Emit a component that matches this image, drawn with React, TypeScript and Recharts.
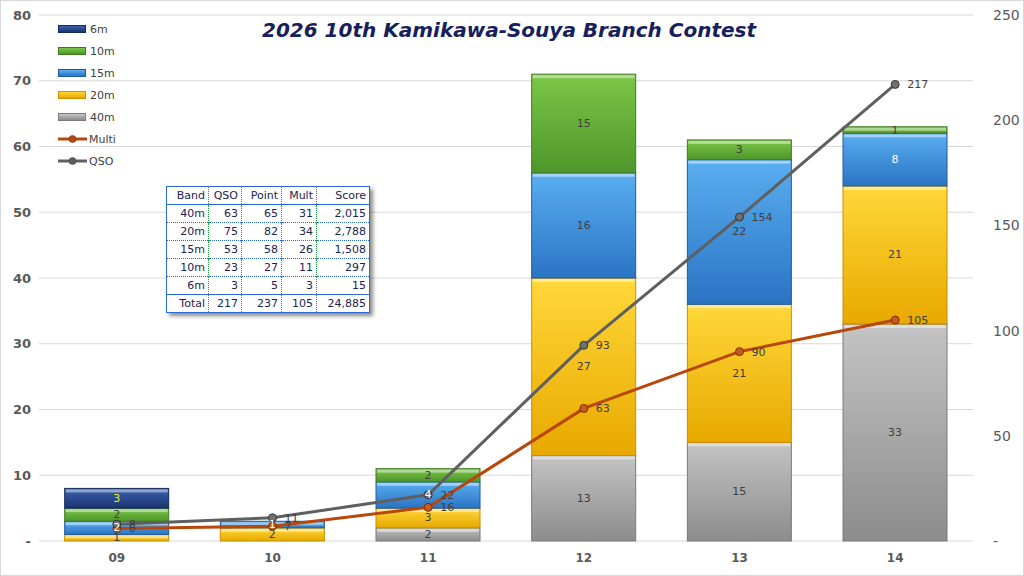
import React from "react";
import { ComposedChart, Bar, Line, XAxis, YAxis, CartesianGrid, LabelList } from "recharts";

const categories = ["09", "10", "11", "12", "13", "14"];
const band40 = [0, 0, 2, 13, 15, 33];
const band20 = [1, 2, 3, 27, 21, 21];
const band15 = [2, 1, 4, 16, 22, 8];
const band10 = [2, 0, 2, 15, 3, 1];
const band6 = [3, 0, 0, 0, 0, 0];
const multi = [6, 7, 16, 63, 90, 105];
const qso = [8, 11, 22, 93, 154, 217];

const leftTicks = [0, 10, 20, 30, 40, 50, 60, 70, 80];
const rightTicks = [0, 50, 100, 150, 200, 250];

const tableHead = ["Band", "QSO", "Point", "Mult", "Score"];
const tableRows = [
  ["40m", "63", "65", "31", "2,015"],
  ["20m", "75", "82", "34", "2,788"],
  ["15m", "53", "58", "26", "1,508"],
  ["10m", "23", "27", "11", "297"],
  ["6m", "3", "5", "3", "15"],
];
const tableTotal = ["Total", "217", "237", "105", "24,885"];

const data = categories.map((c, i) => ({
  name: c,
  b40: band40[i],
  b20: band20[i],
  b15: band15[i],
  b10: band10[i],
  b6: band6[i],
  multi: multi[i],
  qso: qso[i],
}));

const FONT = "'DejaVu Sans', Verdana, sans-serif";

// light top -> darker bottom, like the Excel bevel fill
const bands = [
  { key: "b40", name: "40m", top: "#c4c4c4", bottom: "#8c8c8c", edge: "#7a7a7a" },
  { key: "b20", name: "20m", top: "#ffd83a", bottom: "#e8a800", edge: "#c89000" },
  { key: "b15", name: "15m", top: "#5aaef0", bottom: "#2a74c4", edge: "#1e5ca0" },
  { key: "b10", name: "10m", top: "#7cc648", bottom: "#4e962a", edge: "#3f7a20" },
  { key: "b6", name: "6m", top: "#3a62b0", bottom: "#1a3470", edge: "#142a5c" },
];

const MULTI_COLOR = "#b8470b";
const QSO_COLOR = "#5f5f5f";

function bevelShape(id: string, edge: string) {
  return (props: any) => {
    const { x, y, width, height } = props;
    if (!height || height <= 0) return <g />;
    return (
      <g>
        <rect x={x} y={y} width={width} height={height} fill={`url(#${id})`} stroke={edge} strokeWidth={1} />
        <rect x={x + 1} y={y + 1} width={Math.max(width - 2, 0)} height={Math.min(3, Math.max(height - 2, 0))} fill="#ffffff" opacity={0.45} />
      </g>
    );
  };
}

function barLabel(color: (v: number) => string) {
  return (props: any) => {
    const { x, y, width, height, value } = props;
    if (!value) return null;
    return (
      <text
        x={x + width / 2}
        y={y + height / 2}
        textAnchor="middle"
        dominantBaseline="central"
        fontSize={11}
        fontFamily={FONT}
        fill={color(value)}
      >
        {value}
      </text>
    );
  };
}

const labelColor: Record<string, (v: number) => string> = {
  b40: () => "#404040",
  b20: () => "#404040",
  b15: (v) => (v < 10 ? "#ffffff" : "#404040"),
  b10: () => "#404040",
  b6: () => "#f0f000",
};

const legendItems = [
  ...[...bands].reverse().map((b) => ({ name: b.name, kind: "bar", top: b.top, bottom: b.bottom, edge: b.edge })),
  { name: "Multi", kind: "line", top: MULTI_COLOR, bottom: MULTI_COLOR, edge: MULTI_COLOR },
  { name: "QSO", kind: "line", top: QSO_COLOR, bottom: QSO_COLOR, edge: QSO_COLOR },
];

function Legend() {
  return (
    <div style={{ position: "absolute", left: 57, top: 17, fontFamily: FONT, fontSize: 11, color: "#404040" }}>
      {legendItems.map((it) => (
        <div key={it.name} style={{ height: 22, display: "flex", alignItems: "center" }}>
          {it.kind === "bar" ? (
            <span
              style={{
                display: "inline-block",
                width: 26,
                height: 6,
                background: `linear-gradient(${it.top}, ${it.bottom})`,
                border: `1px solid ${it.edge}`,
                marginRight: 4,
              }}
            />
          ) : (
            <svg width={29} height={10} style={{ marginRight: 2 }}>
              <line x1={0} y1={5} x2={29} y2={5} stroke={it.top} strokeWidth={3} />
              <circle cx={14.5} cy={5} r={3.5} fill={it.top} stroke="#333" strokeWidth={0.5} />
            </svg>
          )}
          <span>{it.name}</span>
        </div>
      ))}
    </div>
  );
}

function ScoreTable() {
  const widths = [42, 33, 40, 35, 53];
  const cell = (txt: string, j: number) => (
    <td
      key={j}
      style={{
        boxSizing: "border-box",
        textAlign: "right",
        padding: "0 3px 0 0",
        height: 18,
        whiteSpace: "nowrap",
        borderRight: j < 4 ? "1px dotted #1ea040" : undefined,
      }}
    >
      {txt}
    </td>
  );
  return (
    <table
      style={{
        position: "absolute",
        left: 165,
        top: 185,
        width: 204,
        tableLayout: "fixed",
        borderCollapse: "collapse",
        border: "1px solid #2a6ad8",
        background: "#ffffff",
        fontFamily: FONT,
        fontSize: 11,
        color: "#1c2450",
        boxShadow: "3px 3px 4px rgba(0,0,0,0.45)",
        lineHeight: "15px",
      }}
    >
      <colgroup>
        {widths.map((w, j) => (
          <col key={j} style={{ width: w }} />
        ))}
      </colgroup>
      <tbody>
        <tr style={{ borderBottom: "1px solid #2a6ad8" }}>{tableHead.map((t, j) => cell(t, j))}</tr>
        {tableRows.map((r, i) => (
          <tr key={i} style={{ borderBottom: i < tableRows.length - 1 ? "1px dotted #2a6ad8" : "1px solid #2a6ad8" }}>
            {r.map((t, j) => cell(t, j))}
          </tr>
        ))}
        <tr>{tableTotal.map((t, j) => cell(t, j))}</tr>
      </tbody>
    </table>
  );
}

export default function App() {
  return (
    <div
      style={{
        position: "absolute",
        left: 0,
        top: 0,
        width: 1024,
        height: 576,
        background: "#ffffff",
        border: "1px solid #d9d9d9",
        boxSizing: "border-box",
        overflow: "hidden",
      }}
    >
      <ComposedChart
        width={1022}
        height={574}
        data={data}
        margin={{ top: 14, right: 0, left: 2, bottom: 4 }}
        barCategoryGap="16.5%"
      >
        <defs>
          {bands.map((b) => (
            <linearGradient key={b.key} id={`g-${b.key}`} x1="0" y1="0" x2="0" y2="1">
              <stop offset="0%" stopColor={b.top} />
              <stop offset="100%" stopColor={b.bottom} />
            </linearGradient>
          ))}
        </defs>
        <CartesianGrid yAxisId="left" vertical={false} stroke="#d9d9d9" />
        <XAxis
          dataKey="name"
          axisLine={false}
          tickLine={false}
          height={30}
          tick={{ fontSize: 12, fontWeight: "bold", fill: "#595959", fontFamily: FONT }}
          tickMargin={6}
        />
        <YAxis
          yAxisId="left"
          domain={[0, 80]}
          ticks={leftTicks}
          width={36}
          axisLine={false}
          tickLine={false}
          tickFormatter={(v) => (v === 0 ? "-" : String(v))}
          tick={{ fontSize: 13, fontWeight: "bold", fill: "#595959", fontFamily: FONT }}
          interval={0}
        />
        <YAxis
          yAxisId="right"
          orientation="right"
          domain={[0, 250]}
          ticks={rightTicks}
          width={50}
          axisLine={false}
          tickLine={false}
          tickFormatter={(v) => (v === 0 ? "-" : String(v))}
          tick={{ fontSize: 14, fill: "#595959", fontFamily: FONT }}
          tickMargin={14}
          interval={0}
        />
        {bands.map((b) => (
          <Bar
            key={b.key}
            yAxisId="left"
            dataKey={b.key}
            name={b.name}
            stackId="bands"
            fill={b.bottom}
            shape={bevelShape(`g-${b.key}`, b.edge)}
            isAnimationActive={false}
          >
            <LabelList dataKey={b.key} content={barLabel(labelColor[b.key])} />
          </Bar>
        ))}
        <Line
          yAxisId="right"
          dataKey="multi"
          name="Multi"
          stroke={MULTI_COLOR}
          strokeWidth={3}
          dot={{ r: 4, fill: "#c85a1a", stroke: "#7a2e06", strokeWidth: 1 }}
          isAnimationActive={false}
        >
          <LabelList dataKey="multi" position="right" offset={12} fontSize={11} fill="#404040" fontFamily={FONT} />
        </Line>
        <Line
          yAxisId="right"
          dataKey="qso"
          name="QSO"
          stroke={QSO_COLOR}
          strokeWidth={3}
          dot={{ r: 4, fill: "#707070", stroke: "#333333", strokeWidth: 1 }}
          isAnimationActive={false}
        >
          <LabelList dataKey="qso" position="right" offset={12} fontSize={11} fill="#404040" fontFamily={FONT} />
        </Line>
      </ComposedChart>
      <div
        style={{
          position: "absolute",
          left: 0,
          width: 1016,
          top: 17,
          textAlign: "center",
          fontFamily: FONT,
          fontSize: 20,
          fontWeight: "bold",
          fontStyle: "italic",
          color: "#16205c",
        }}
      >
        2026 10th Kamikawa-Souya Branch Contest
      </div>
      <Legend />
      <ScoreTable />
    </div>
  );
}
